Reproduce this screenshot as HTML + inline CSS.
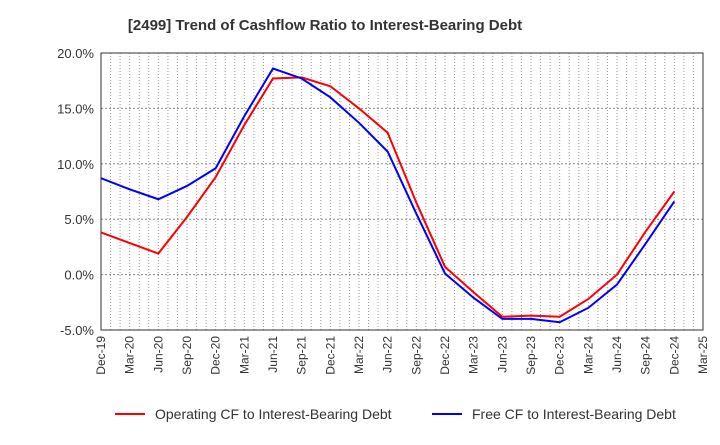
<!DOCTYPE html>
<html><head><meta charset="utf-8"><style>
body{margin:0;background:#fff;font-family:"Liberation Sans",sans-serif;}
</style></head><body>
<svg width="720" height="440" xmlns="http://www.w3.org/2000/svg">
<text x="325" y="30" text-anchor="middle" font-size="15" font-weight="bold" fill="#333">[2499]  Trend of Cashflow Ratio to Interest-Bearing Debt</text>
<g id="grid"></g><g id="axes"></g><g id="series"></g>
<g>
<line x1="115" y1="414" x2="145" y2="414" stroke="#f00" stroke-width="2"/>
<text x="155" y="419" font-size="14" fill="#333">Operating CF to Interest-Bearing Debt</text>
<line x1="432" y1="414" x2="462" y2="414" stroke="#00f" stroke-width="2"/>
<text x="472" y="419" font-size="14" fill="#333">Free CF to Interest-Bearing Debt</text>
</g>
</svg>
<script>
const categories=["Dec-19","Mar-20","Jun-20","Sep-20","Dec-20","Mar-21","Jun-21","Sep-21","Dec-21","Mar-22","Jun-22","Sep-22","Dec-22","Mar-23","Jun-23","Sep-23","Dec-23","Mar-24","Jun-24","Sep-24","Dec-24","Mar-25"];
const operatingCF=[3.8,2.85,1.9,5.2,8.8,13.5,17.7,17.8,17.0,15.0,12.8,6.5,0.7,-1.6,-3.8,-3.7,-3.8,-2.2,0.0,3.9,7.5];
const freeCF=[8.7,7.7,6.8,8.0,9.6,14.3,18.6,17.7,16.0,13.7,11.1,5.5,0.1,-2.1,-4.0,-4.0,-4.3,-3.0,-0.9,2.8,6.6];
const yTicks=[-5,0,5,10,15,20];
const L=101,R=703,T=53,B=330,ymin=-5,ymax=20;
const xs=i=>L+(R-L)*i/(categories.length-1);
const ys=v=>B-(v-ymin)/(ymax-ymin)*(B-T);
const NS="http://www.w3.org/2000/svg";
function mk(tag,attrs,parent){const e=document.createElementNS(NS,tag);for(const k in attrs)e.setAttribute(k,attrs[k]);document.getElementById(parent).appendChild(e);return e;}
const months=(categories.length-1)*3;
for(let m=1;m<months;m++){const x=L+(R-L)*m/months;
const g=mk("line",{x1:x,x2:x,y1:T,y2:B,stroke:"#999","stroke-dasharray":"1,2","stroke-width":1},"grid");

}
yTicks.forEach(v=>{const y=ys(v);
const g=mk("line",{x1:L,x2:R,y1:y,y2:y,stroke:"#888","stroke-dasharray":"2,2","stroke-width":1},"grid");


const t=mk("text",{x:L-7,y:y+5,"text-anchor":"end","font-size":"13",fill:"#333"},"axes");t.textContent=v.toFixed(1)+"%";

});
categories.forEach((c,i)=>{const x=xs(i);
const t=mk("text",{x:x+4,y:B+6,"text-anchor":"end","font-size":"12",fill:"#333",transform:`rotate(-90 ${x+4} ${B+6})`},"axes");t.textContent=c;

});
const fr=mk("rect",{x:L,y:T,width:R-L,height:B-T,fill:"none",stroke:"#333","stroke-width":1},"axes");


function line(data,color,name){const p=mk("polyline",{points:data.map((v,i)=>xs(i)+","+ys(v)).join(" "),fill:"none",stroke:color,"stroke-width":2},"series");

}
line(operatingCF,"#f00","operating-cf-line");
line(freeCF,"#00f","free-cf-line");
</script>
</body></html>
